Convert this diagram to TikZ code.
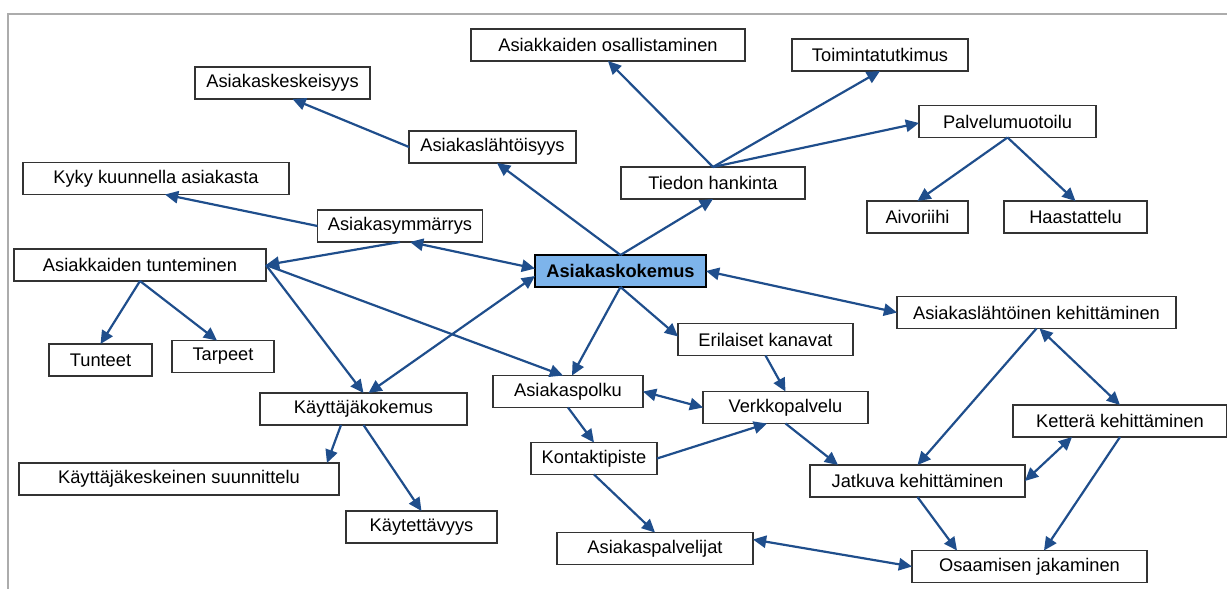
\documentclass[tikz,border=0pt]{standalone}
\usepackage{fontspec}
\setmainfont{Liberation Sans}
\usepackage{tikz}
\usetikzlibrary{arrows.meta, positioning}
\usepackage{xcolor}
\definecolor{linkblue}{RGB}{31,78,140}
\definecolor{keyblue}{RGB}{125,180,235}

\begin{document}
\begin{tikzpicture}[x=0.02cm,y=-0.02cm,font=\fontsize{10.4}{12}\selectfont,
  box/.style={draw=black!80, line width=0.75pt, fill=white, minimum height=0.64cm, inner sep=0pt, outer sep=0pt},
  link/.style={draw=linkblue, line width=1.25pt, -{Triangle[length=7.5pt,width=7pt]}},
  twoway/.style={link, {Triangle[length=7.5pt,width=7pt]}-{Triangle[length=7.5pt,width=7pt]}}]
\useasboundingbox (0,0) rectangle (1227,589);
\draw [gray!65, line width=1.1pt](1227,14) -- (8,14) -- (8,589);
% boxes
\node[box, minimum width=3.5cm] (keskeisyys) at (282.5,83) {Asiakaskeskeisyys};
\node[box, minimum width=5.32cm] (kyky) at (156,178.5) {Kyky kuunnella asiakasta};
\node[box, minimum width=5.48cm] (osallistaminen) at (608,45) {Asiakkaiden osallistaminen};
\node[box, minimum width=3.52cm] (toiminta) at (880,55) {Toimintatutkimus};
\node[box, minimum width=3.34cm] (lahtoisyys) at (492.5,147) {Asiakaslähtöisyys};
\node[box, minimum width=3.68cm] (tiedon) at (713,183) {Tiedon hankinta};
\node[box, minimum width=3.54cm] (palvelu) at (1007.5,121.5) {Palvelumuotoilu};
\node[box, minimum width=2.02cm] (aivoriihi) at (917.5,217) {Aivoriihi};
\node[box, minimum width=2.86cm] (haastattelu) at (1075.5,217) {Haastattelu};
\node[box, minimum width=3.3cm] (ymmarrys) at (400,226) {Asiakasymmärrys};
\node[box, minimum width=5.04cm] (tunteminen) at (140,265) {Asiakkaiden tunteminen};
\node[box, minimum width=2.06cm] (tunteet) at (100.5,360) {Tunteet};
\node[box, minimum width=2.04cm] (tarpeet) at (223,356.5) {Tarpeet};
\node[box, minimum width=3.42cm, fill=keyblue, draw=black, line width=1.1pt, font=\fontsize{10.4}{12}\selectfont\bfseries] (kokemus) at (620.5,271) {Asiakaskokemus};
\node[box, minimum width=3.5cm] (kanavat) at (765.5,339.5) {Erilaiset kanavat};
\node[box, minimum width=3cm] (polku) at (568,391.5) {Asiakaspolku};
\node[box, minimum width=3.3cm] (verkko) at (785.5,407.5) {Verkkopalvelu};
\node[box, minimum width=5.58cm] (lahtoinen) at (1036.5,312.5) {Asiakaslähtöinen kehittäminen};
\node[box, minimum width=4.28cm] (kettera) at (1120,421) {Ketterä kehittäminen};
\node[box, minimum width=4.3cm] (jatkuva) at (917.5,481) {Jatkuva kehittäminen};
\node[box, minimum width=4.7cm] (osaaminen) at (1029.5,566.5) {Osaamisen jakaminen};
\node[box, minimum width=4.14cm] (kayttaja) at (363.5,409) {Käyttäjäkokemus};
\node[box, minimum width=6.4cm] (suunnittelu) at (179,479) {Käyttäjäkeskeinen suunnittelu};
\node[box, minimum width=3.02cm] (kaytettavyys) at (421.5,527) {Käytettävyys};
\node[box, minimum width=2.52cm] (kontakti) at (594,458.5) {Kontaktipiste};
\node[box, minimum width=3.92cm] (palvelijat) at (655,548.5) {Asiakaspalvelijat};
% links
\draw[link] (lahtoisyys.west) -- ([xshift=0.2cm]keskeisyys.south);
\draw[link] (kokemus.north) -- ([xshift=0.09cm]lahtoisyys.south);
\draw[link] (kokemus.north) -- (tiedon.south);
\draw[link] (tiedon.north) -- (osallistaminen.south);
\draw[link] (tiedon.north) -- (toiminta.south);
\draw[link] (tiedon.north) -- ([yshift=-0.03cm]palvelu.west);
\draw[link] (palvelu.south) -- (aivoriihi.north);
\draw[link] (palvelu.south) -- (haastattelu.north);
\draw[link] (ymmarrys.west) -- ([xshift=0.18cm]kyky.south);
\draw[twoway] ([xshift=0.2cm]ymmarrys.south) -- ([yshift=0.05cm]kokemus.west);
\draw[link] (ymmarrys.south) -- (tunteminen.east);
\draw[link] (tunteminen.south) -- (tunteet.north);
\draw[link] (tunteminen.south) -- ([xshift=-0.12cm]tarpeet.north);
\draw[link] (tunteminen.east) -- (kayttaja.north);
\draw[link] (tunteminen.east) -- ([xshift=-0.1cm]polku.north);
\draw[twoway] ([xshift=0.1cm]kayttaja.north) -- ([yshift=-0.1cm]kokemus.west);
\draw[link] (kokemus.south) -- ([xshift=0.08cm]polku.north);
\draw[link] (kokemus.south) -- ([yshift=0.06cm]kanavat.west);
\draw[link] (kanavat.south) -- (verkko.north);
\draw[twoway] (polku.east) -- (verkko.west);
\draw[link] (polku.south) -- (kontakti.north);
\draw[link] (kontakti.east) -- ([xshift=-0.37cm]verkko.south);
\draw[link] (verkko.south) -- ([xshift=0.56cm]jatkuva.north west);
\draw[link] (kontakti.south) -- (palvelijat.north);
\draw[twoway] ([yshift=0.18cm]palvelijat.east) -- (osaaminen.west);
\draw[twoway] (kokemus.east) -- (lahtoinen.west);
\draw[link] (lahtoinen.south) -- (jatkuva.north);
\draw[twoway] ([xshift=0.06cm]lahtoinen.south) -- (kettera.north);
\draw[twoway] ([xshift=-0.96cm]kettera.south) -- (jatkuva.east);
\draw[link] (kettera.south) -- ([xshift=0.29cm]osaaminen.north);
\draw[link] (jatkuva.south) -- ([xshift=-1.45cm]osaaminen.north);
\draw[link] ([xshift=-0.45cm]kayttaja.south) -- ([xshift=-0.24cm]suunnittelu.north east);
\draw[link] (kayttaja.south) -- (kaytettavyys.north);
\end{tikzpicture}
\end{document}
